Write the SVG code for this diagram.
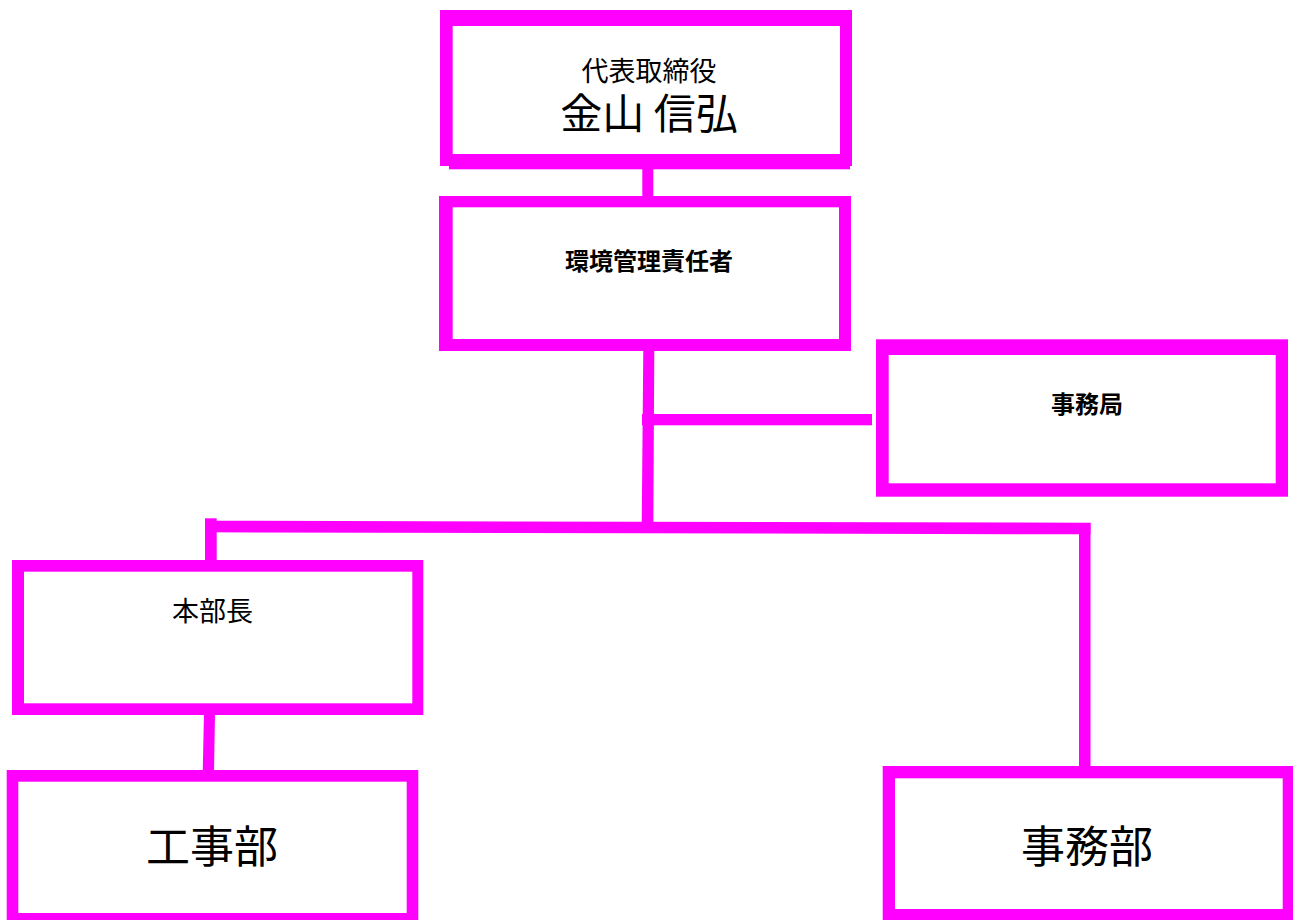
<svg xmlns="http://www.w3.org/2000/svg" width="1293" height="920" viewBox="0 0 1293 920">
  <style>
    .frame { fill: #FF00FF; }
    .inner { fill: #FFFFFF; }
    .conn { fill: #FF00FF; }
    .t { font-family: "Noto Sans CJK JP", "Noto Sans", sans-serif; fill: #000000; text-anchor: middle; }
    .b { font-weight: bold; }
  </style>
  <rect x="0" y="0" width="1293" height="920" fill="#FFFFFF"/>
  <g id="connectors">
    <rect class="conn" x="642.3" y="164" width="11" height="34"/>
    <polygon class="conn" points="643.3,349 654.3,349 653.3,527 641.7,527"/>
    <rect class="conn" x="642" y="414" width="230" height="11.3"/>
    <rect class="conn" x="205" y="518.3" width="11.7" height="44"/>
    <polygon class="conn" points="205,520.7 1090.5,522.7 1090.5,534.3 205,532.3"/>
    <rect class="conn" x="1079" y="523" width="11.5" height="245"/>
    <polygon class="conn" points="204,713 215,713 214,772 202.7,772"/>
  </g>
  <g id="node-ceo">
    <rect class="frame" x="440" y="10" width="412" height="156"/>
    <rect class="frame" x="449" y="164" width="401" height="5.3"/>
    <rect class="inner" x="452.7" y="26" width="387.3" height="128"/>
    <text class="t"><tspan x="649" y="80.5" font-size="27">代表取締役</tspan><tspan x="649" y="128.5" font-size="42">金山 信弘</tspan></text>
  </g>
  <g id="node-env">
    <rect class="frame" x="439" y="196" width="412" height="155"/>
    <rect class="inner" x="452.7" y="207.3" width="386.3" height="131.7"/>
    <text class="t b" x="649" y="270" font-size="24">環境管理責任者</text>
  </g>
  <g id="node-secretariat">
    <rect class="frame" x="876" y="339.3" width="412" height="157.4"/>
    <rect class="inner" x="888.7" y="355" width="387" height="128.3"/>
    <text class="t b" x="1087" y="413" font-size="24">事務局</text>
  </g>
  <g id="node-hq">
    <rect class="frame" x="12" y="560" width="411.3" height="155"/>
    <rect class="inner" x="24" y="571.7" width="388.3" height="131.6"/>
    <text class="t" x="212.5" y="620.5" font-size="27">本部長</text>
  </g>
  <g id="node-construction">
    <rect class="frame" x="6.7" y="770" width="411.6" height="155"/>
    <rect class="inner" x="18.3" y="781.7" width="388.4" height="131.3"/>
    <text class="t" x="212" y="863" font-size="44">工事部</text>
  </g>
  <g id="node-admin">
    <rect class="frame" x="882.7" y="766" width="410.3" height="159"/>
    <rect class="inner" x="895" y="778.3" width="387.7" height="130.7"/>
    <text class="t" x="1087" y="863" font-size="44">事務部</text>
  </g>
</svg>
